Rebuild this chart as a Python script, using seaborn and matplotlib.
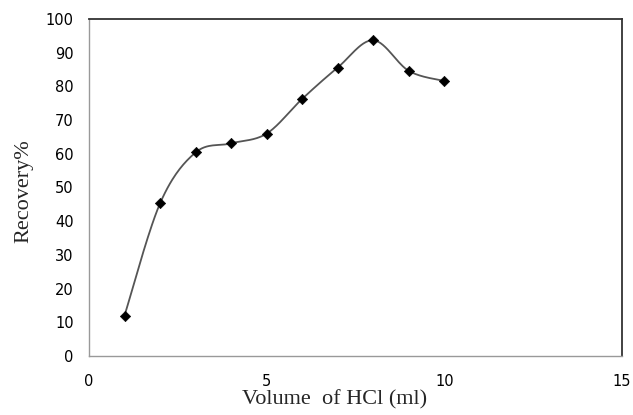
import numpy as np
import pandas as pd
import seaborn as sns
import matplotlib
matplotlib.use("Agg")
import matplotlib.pyplot as plt

# Data
volume_ml = [1, 2, 3, 4, 5, 6, 7, 8, 9, 10]
recovery = [12.0, 45.3, 60.4, 63.1, 66.0, 76.3, 85.6, 93.7, 84.6, 81.6]
x_ticks = [0, 5, 10, 15]
y_ticks = list(range(0, 101, 10))

df = pd.DataFrame({"Volume": volume_ml, "Recovery": recovery})


# Excel-like smoothed line: cubic Bezier segments through the data points
def smooth_curve(xs, ys, n=30):
    p = np.column_stack([xs, ys]).astype(float)
    out = [p[0]]
    for i in range(len(p) - 1):
        p0 = p[i - 1] if i > 0 else p[i]
        p3 = p[i + 2] if i + 2 < len(p) else p[i + 1]
        c1 = p[i] + (p[i + 1] - p0) / 6.0
        c2 = p[i + 1] - (p3 - p[i]) / 6.0
        t = np.linspace(0, 1, n)[1:, None]
        seg = ((1 - t) ** 3) * p[i] + 3 * ((1 - t) ** 2) * t * c1 \
            + 3 * (1 - t) * t ** 2 * c2 + t ** 3 * p[i + 1]
        out.extend(seg)
    out = np.array(out)
    return pd.DataFrame({"Volume": out[:, 0], "Recovery": out[:, 1]})


curve = smooth_curve(df["Volume"], df["Recovery"])

sns.set_style("white")
fig = plt.figure(figsize=(6.33, 4.15), dpi=100)
ax = fig.add_axes([0.1406, 0.1422, 0.842, 0.812])

sns.lineplot(data=curve, x="Volume", y="Recovery", sort=False,
             color="#555555", linewidth=1.3, ax=ax)
sns.scatterplot(data=df, x="Volume", y="Recovery", marker="D", s=28,
                color="black", edgecolor="black", zorder=3, ax=ax)

ax.set_xlim(0, 15)
ax.set_ylim(0, 100)
ax.set_xticks(x_ticks)
ax.set_yticks(y_ticks)
ax.tick_params(axis="both", length=0, labelsize=10.5, colors="black")
ax.tick_params(axis="x", pad=13)
ax.tick_params(axis="y", pad=11)

for side in ["top", "right"]:
    ax.spines[side].set_color("#333333")
    ax.spines[side].set_linewidth(1.3)
for side in ["left", "bottom"]:
    ax.spines[side].set_color("#999999")
    ax.spines[side].set_linewidth(1.0)

ax.set_xlabel("Volume  of HCl (ml)", family="Liberation Serif", fontsize=16)
ax.set_ylabel("Recovery%", family="Liberation Serif", fontsize=16)
ax.xaxis.set_label_coords(0.46, -0.1)
ax.yaxis.set_label_coords(-0.105, 0.49)

fig.savefig("out.png", dpi=100)
